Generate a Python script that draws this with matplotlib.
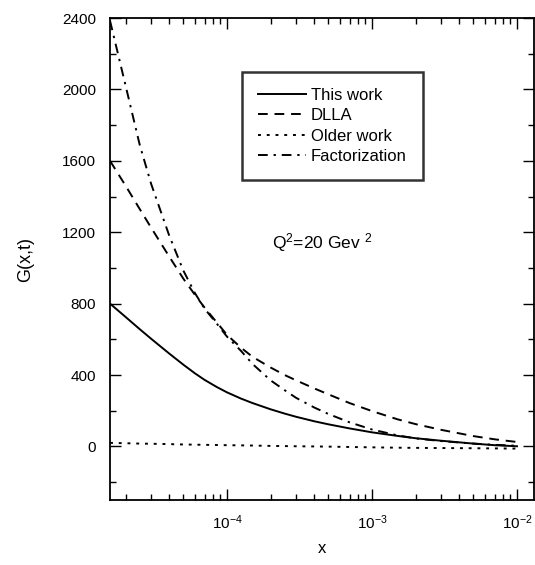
import numpy as np
import matplotlib
matplotlib.use('Agg')
import matplotlib.pyplot as plt
from matplotlib.ticker import LogLocator, MultipleLocator, FixedLocator

plt.rcParams['font.family'] = ['Liberation Sans', 'DejaVu Sans']
plt.rcParams['mathtext.fontset'] = 'custom'
plt.rcParams['mathtext.rm'] = 'Liberation Sans'
plt.rcParams['mathtext.it'] = 'Liberation Sans'

# values
x = [1.56e-5, 2e-5, 2.5e-5, 3e-5, 4e-5, 5e-5, 6e-5, 7e-5, 8.5e-5, 1e-4,
     1.25e-4, 1.5e-4, 2e-4, 2.5e-4, 3e-4, 4e-4, 5e-4, 7e-4, 1e-3,
     1.5e-3, 2e-3, 3e-3, 5e-3, 7e-3, 1e-2]
this_work = [800, 725, 657, 603, 520, 458, 410, 373, 333, 303,
             268, 243, 208, 184, 166, 141, 124, 101, 79,
             59, 46, 32, 16, 7, 1]
dlla = [1600, 1460, 1330, 1225, 1063, 940, 850, 778, 695, 625,
        553, 502, 442, 400, 370, 325, 292, 243, 198,
        152, 125, 93, 58, 40, 25]
older_work = [20, 18, 16, 15, 13, 11, 10, 9, 8, 7,
              6, 5, 3, 2, 1, 0, -1, -3, -5,
              -7, -8, -9, -10, -11, -12]
factorization = [2385, 2020, 1690, 1470, 1180, 985, 860, 772, 688, 615,
                 535, 462, 370, 315, 272, 218, 182, 135, 95,
                 62, 45, 30, 16, 9, 4]

fig = plt.figure(figsize=(5.35, 5.65), dpi=100)
ax = fig.add_axes([110 / 535, 1 - 500 / 565, 424 / 535, 482 / 565])

ax.plot(x, this_work, color='black', lw=1.4, label='This work')
ax.plot(x, dlla, color='black', lw=1.4, linestyle=(0, (5, 3.5)), label='DLLA')
ax.plot(x, older_work, color='black', lw=1.4, linestyle=(0, (1.5, 3)), label='Older work')
ax.plot(x, factorization, color='black', lw=1.4, linestyle=(0, (5, 3, 1.2, 3)),
        label='Factorization')

ax.set_xscale('log')
ax.set_xlim(1.56e-5, 0.0131)
ax.set_ylim(-300, 2400)

ax.xaxis.set_major_locator(FixedLocator([1e-4, 1e-3, 1e-2]))
ax.xaxis.set_minor_locator(LogLocator(base=10, subs=np.arange(2, 10)))
ax.set_xticklabels([r'$10^{-4}$', r'$10^{-3}$', r'$10^{-2}$'])
ax.yaxis.set_major_locator(MultipleLocator(400))
ax.yaxis.set_minor_locator(MultipleLocator(200))

ax.tick_params(which='both', direction='in', top=True, right=True, labelsize=11)
ax.tick_params(which='major', length=8, width=1)
ax.tick_params(which='minor', length=4, width=1)
ax.tick_params(axis='x', pad=10)
ax.tick_params(axis='y', pad=10)
for s in ax.spines.values():
    s.set_linewidth(1.3)

ax.set_xlabel('x', fontsize=12, labelpad=6)
ax.set_ylabel('G(x,t)', fontsize=13, labelpad=20)

ax.text(0.383, 0.523, r'Q$^2$=20 Gev $^2$', transform=ax.transAxes, fontsize=12.5,
        va='baseline')

leg = ax.legend(loc='upper left', bbox_to_anchor=(0.311, 0.888), fontsize=12,
                frameon=True, fancybox=False, handlelength=2.9, handletextpad=0.3,
                labelspacing=0.33, borderpad=0.95, borderaxespad=0)
leg.get_frame().set_edgecolor('black')
leg.get_frame().set_linewidth(1.8)

fig.savefig('out.png', dpi=100)
